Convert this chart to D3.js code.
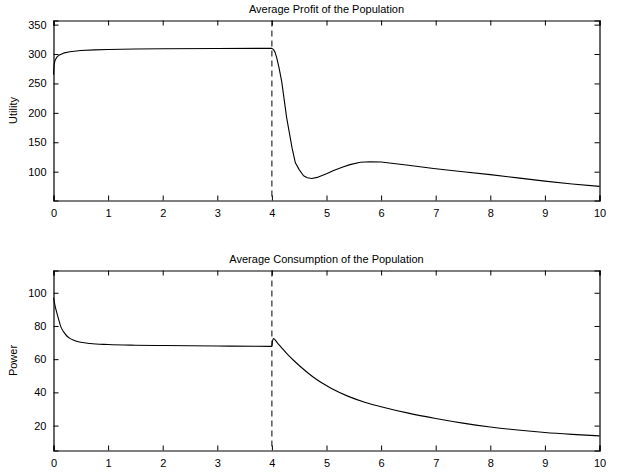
<!DOCTYPE html>
<html>
<head>
<meta charset="utf-8">
<script src="https://d3js.org/d3.v7.min.js"></script>
<style>
  body { margin: 0; background: #fff; }
  svg { display: block; }
  text { font-family: "Liberation Sans", Arial, sans-serif; font-size: 11px; fill: #000; }
</style>
</head>
<body>
<svg width="618" height="472"></svg>
<script>
// time axis (shared)
const xTicks = [0, 1, 2, 3, 4, 5, 6, 7, 8, 9, 10];
const switchTime = 4;

// average profit (utility)
const profitX = [0, 0.005, 0.01, 0.02, 0.03, 0.05, 0.07, 0.1, 0.15, 0.2, 0.3, 0.5, 0.75, 1, 1.5, 2, 3, 4,
                 4.03, 4.06, 4.09, 4.13, 4.18, 4.27, 4.37, 4.43, 4.5, 4.58, 4.65, 4.73, 4.85, 5.0,
                 5.13, 5.3, 5.43, 5.62, 5.8, 6.0, 6.5, 6.96, 7.5, 8.0, 8.5, 9.0, 9.5, 10];
const profitY = [265, 274, 280, 286, 289.5, 293, 295.5, 297.8, 300.2, 302, 304, 306, 307, 307.8, 308.5, 309, 309.5, 309.7,
                 307.5, 302.5, 293, 277, 253, 192, 140, 115, 103.5, 93, 89.8, 88.5, 90.8, 96.5,
                 102, 108, 112, 116, 117, 116.5, 111, 105.5, 100, 95, 89.5, 84, 79, 75];
const profitTicks = [100, 150, 200, 250, 300, 350];

// average consumption (power)
const powerX = [0, 0.03, 0.06, 0.09, 0.12, 0.15, 0.2, 0.25, 0.3, 0.37, 0.5, 0.67, 1, 1.5, 2, 3, 4,
                4.01, 4.03, 4.1, 4.2, 4.3, 4.4, 4.5, 4.65, 4.8, 4.95, 5.1, 5.4, 5.7, 6.0,
                6.5, 7.0, 7.5, 8.0, 8.5, 9.0, 9.5, 10];
const powerY = [97, 92, 88, 84.4, 81, 78.4, 75.8, 73.8, 72.5, 71.4, 70.2, 69.4, 68.8, 68.4, 68.2, 67.9, 67.7,
                70.5, 72.4, 69.8, 66, 62.4, 59.2, 56.2, 52, 48.2, 45, 42.2, 37.6, 34.1, 31.4,
                27.5, 24.3, 21.5, 19.2, 17.3, 15.8, 14.7, 13.8];
const powerTicks = [20, 40, 60, 80, 100];

const svg = d3.select('svg');
const left = 53.5, right = 599.5;

function panel(opts) {
  const x = d3.scaleLinear().domain([0, 10]).range([left, right]);
  const y = d3.scaleLinear().domain(opts.yDomain).range([opts.bottom, opts.top]);
  const g = svg.append('g');

  // dashed switch line
  g.append('line')
    .attr('x1', x(switchTime)).attr('x2', x(switchTime))
    .attr('y1', opts.top).attr('y2', opts.bottom)
    .attr('stroke', '#000').attr('stroke-width', 1)
    .attr('stroke-dasharray', '6,4');

  // curve
  const line = d3.line().x(d => x(d[0])).y(d => y(d[1])).curve(opts.curve);
  g.append('path')
    .datum(opts.xs.map((v, i) => [v, opts.ys[i]]))
    .attr('d', line)
    .attr('fill', 'none').attr('stroke', '#000').attr('stroke-width', 1.1)
    .attr('stroke-linejoin', 'round');

  // axes: inward ticks on all sides
  g.append('g').attr('transform', `translate(0,${opts.bottom})`)
    .call(d3.axisBottom(x).tickValues(xTicks).tickSize(-5).tickPadding(9).tickFormat(d3.format('d')));
  g.append('g').attr('transform', `translate(0,${opts.top})`)
    .call(d3.axisTop(x).tickValues(xTicks).tickSize(-5).tickFormat(''));
  g.append('g').attr('transform', `translate(${left},0)`)
    .call(d3.axisLeft(y).tickValues(opts.yTicks).tickSize(-5).tickPadding(7).tickFormat(d3.format('d')));
  g.append('g').attr('transform', `translate(${right},0)`)
    .call(d3.axisRight(y).tickValues(opts.yTicks).tickSize(-5).tickFormat(''));

  g.selectAll('.domain').attr('stroke', '#000').attr('stroke-width', 1.2);
  g.selectAll('.tick line').attr('stroke', '#000');
  g.selectAll('.tick text').style('font-size', '11px').attr('fill', '#000')
    .style('font-family', '"Liberation Sans", Arial, sans-serif');

  // title and y label
  g.append('text')
    .attr('x', (left + right) / 2).attr('y', opts.top - 8)
    .attr('text-anchor', 'middle').text(opts.title);
  g.append('text')
    .attr('transform', `translate(17,${(opts.top + opts.bottom) / 2}) rotate(-90)`)
    .attr('text-anchor', 'middle').text(opts.ylabel);
}

panel({
  top: 20.5, bottom: 200.5, yDomain: [51, 357],
  xs: profitX, ys: profitY, yTicks: profitTicks, curve: d3.curveLinear,
  title: 'Average Profit of the Population', ylabel: 'Utility'
});

panel({
  top: 270.5, bottom: 450.5, yDomain: [5, 113.4],
  xs: powerX, ys: powerY, yTicks: powerTicks, curve: d3.curveMonotoneX,
  title: 'Average Consumption of the Population', ylabel: 'Power'
});
</script>
</body>
</html>
